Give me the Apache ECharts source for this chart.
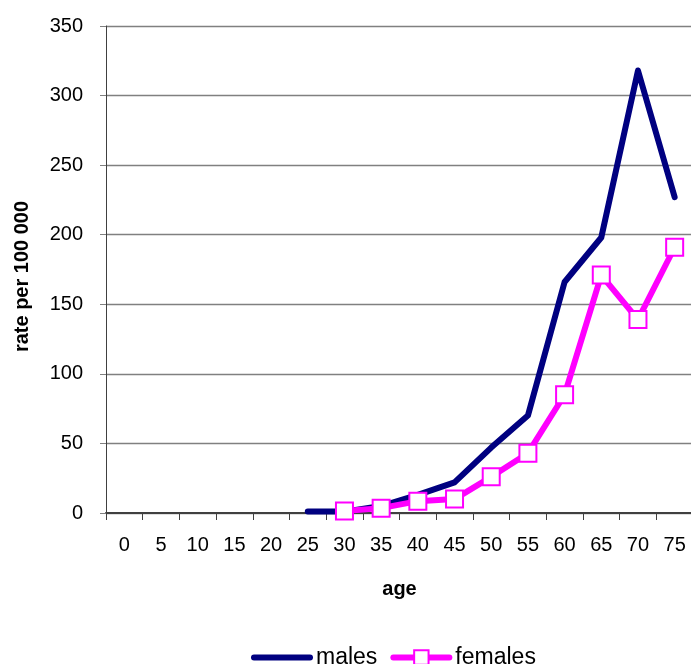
<!DOCTYPE html>
<html>
<head>
<meta charset="utf-8">
<script src="https://cdn.jsdelivr.net/npm/echarts@6/dist/echarts.min.js"></script>
<style>
  html, body { margin: 0; padding: 0; background: #fff; }
  #chart { width: 691px; height: 664px; }
</style>
</head>
<body>
<div id="chart"></div>
<script>
// Age groups (years) along the horizontal axis
const ageGroups = ['0', '5', '10', '15', '20', '25', '30', '35', '40', '45', '50', '55', '60', '65', '70', '75'];

// Incidence rates per 100 000; null where no value is recorded
const malesRate   = [null, null, null, null, null, 1, 1, 5, 13, 22, 47, 70, 166, 198, 318, 227];
const femalesRate = [null, null, null, null, null, null, 1.5, 3.5, 8.5, 10, 26, 43, 85, 171, 139, 191];

// Value-axis tick values
const rateTicks = [0, 50, 100, 150, 200, 250, 300, 350];

const FONT = '"Liberation Sans", Arial, sans-serif';

const chart = echarts.init(document.getElementById('chart'), null, { renderer: 'canvas' });

chart.setOption({
  animation: false,
  backgroundColor: '#ffffff',
  grid: { left: 106, top: 26, width: 587, height: 487, containLabel: false, outerBoundsMode: 'none' },
  xAxis: {
    type: 'category',
    data: ageGroups,
    boundaryGap: true,
    name: 'age',
    nameLocation: 'middle',
    nameGap: 66,
    nameTextStyle: { fontFamily: FONT, fontSize: 20, fontWeight: 'bold', color: '#000' },
    axisLine: { lineStyle: { color: '#404040', width: 2 } },
    axisTick: { show: true, alignWithLabel: false, length: 7, lineStyle: { color: '#404040', width: 1 } },
    axisLabel: { fontFamily: FONT, fontSize: 20, color: '#000', margin: 22, interval: 0 },
    splitLine: { show: false }
  },
  yAxis: {
    type: 'value',
    min: rateTicks[0],
    max: rateTicks[rateTicks.length - 1],
    interval: rateTicks[1] - rateTicks[0],
    name: 'rate per 100 000',
    nameLocation: 'middle',
    nameGap: 74,
    nameRotate: 90,
    nameTextStyle: { fontFamily: FONT, fontSize: 20, fontWeight: 'bold', color: '#000', padding: [0, 14, 0, 0] },
    axisLine: { show: true, lineStyle: { color: '#404040', width: 1 } },
    axisTick: { show: true, inside: false, length: 6, lineStyle: { color: '#808080', width: 1 } },
    axisLabel: { fontFamily: FONT, fontSize: 20, color: '#000', margin: 23 },
    splitLine: { show: true, lineStyle: { color: '#808080', width: 1.3 } }
  },
  legend: {
    left: 251,
    top: 646,
    padding: 0,
    itemWidth: 56,
    itemHeight: 18,
    itemGap: 13,
    lineStyle: { width: 'inherit', cap: 'round' },
    textStyle: { fontFamily: FONT, fontSize: 23, color: '#000', padding: [0, 0, 0, 1] },
    data: [
      { name: 'males', itemStyle: { opacity: 0 } },
      { name: 'females' }
    ]
  },
  series: [
    {
      name: 'males',
      type: 'line',
      data: malesRate,
      symbol: 'none',
      connectNulls: false,
      lineStyle: { color: '#000080', width: 6, cap: 'round', join: 'round' },
      itemStyle: { color: '#000080' },
      z: 2
    },
    {
      name: 'females',
      type: 'line',
      data: femalesRate,
      symbol: 'rect',
      symbolSize: 17,
      showAllSymbol: true,
      connectNulls: false,
      lineStyle: { color: '#FF00FF', width: 6, cap: 'round', join: 'round' },
      itemStyle: { color: '#ffffff', borderColor: '#FF00FF', borderWidth: 2 },
      z: 3
    }
  ]
});
</script>
</body>
</html>
